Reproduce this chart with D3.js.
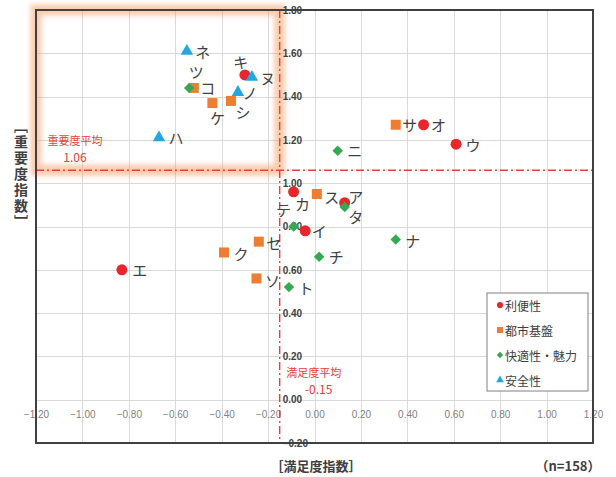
<!DOCTYPE html>
<html lang="ja">
<head>
<meta charset="utf-8">
<script src="https://cdn.jsdelivr.net/npm/d3@7"></script>
<style>
  html, body { margin: 0; padding: 0; background: #fff; }
  svg { display: block; font-family: "Noto Sans CJK JP", "Noto Sans", sans-serif; }
</style>
</head>
<body>
<svg id="chart" width="616" height="477"></svg>
<script>
// ---- data: satisfaction index (x) and importance index (y) per item ----
const categories = ["利便性", "都市基盤", "快適性・魅力", "安全性"];

const convenience = [   // 利便性
  ["ア", 0.13, 0.91], ["イ", -0.04, 0.78], ["ウ", 0.61, 1.18], ["エ", -0.83, 0.60],
  ["オ", 0.47, 1.27], ["カ", -0.09, 0.96], ["キ", -0.30, 1.50]
];
const infrastructure = [ // 都市基盤
  ["ク", -0.39, 0.68], ["ケ", -0.44, 1.37], ["コ", -0.52, 1.44], ["サ", 0.35, 1.27],
  ["シ", -0.36, 1.38], ["ス", 0.01, 0.95], ["セ", -0.24, 0.73], ["ソ", -0.25, 0.56]
];
const comfort = [        // 快適性・魅力
  ["タ", 0.13, 0.89], ["チ", 0.02, 0.66], ["ツ", -0.54, 1.44], ["テ", -0.09, 0.80],
  ["ト", -0.11, 0.52], ["ナ", 0.35, 0.74], ["ニ", 0.10, 1.15]
];
const safety = [         // 安全性
  ["ヌ", -0.27, 1.49], ["ネ", -0.55, 1.61], ["ノ", -0.33, 1.42], ["ハ", -0.67, 1.21]
];

const avgSatisfaction = -0.15;
const avgImportance = 1.06;
const sampleSize = 158;

const xTicks = [-1.2, -1.0, -0.8, -0.6, -0.4, -0.2, 0.0, 0.2, 0.4, 0.6, 0.8, 1.0, 1.2];
const yTicks = [-0.2, 0.0, 0.2, 0.4, 0.6, 0.8, 1.0, 1.2, 1.4, 1.6, 1.8];

// ---- layout and styles ----
const plot = { left: 36, right: 593, top: 10, bottom: 443 };
const seriesStyle = [
  { color: "#e8262b", symbol: d3.symbolCircle, size: 95, rotate: 0, legendSize: 30 },
  { color: "#ed7d31", symbol: d3.symbolSquare, size: 100, rotate: 0, legendSize: 36 },
  { color: "#36a852", symbol: d3.symbolSquare, size: 55, rotate: 45, legendSize: 20 },
  { color: "#22a7e0", symbol: d3.symbolTriangle, size: 68, rotate: 0, legendSize: 26 }
];
// label offset from its marker
const labelOffset = {
  "ア": [11, -6], "イ": [14, 0], "ウ": [17, 0], "エ": [18, 0], "オ": [15, 0],
  "カ": [9, 12], "キ": [-4, -13], "ク": [17, 1], "ケ": [5, 14], "コ": [14, 0],
  "サ": [14, 0], "シ": [12, 11], "ス": [15, 2], "セ": [15, 1], "ソ": [16, 2],
  "タ": [11, 9], "チ": [17, 0], "ツ": [7, -16], "テ": [-10, -17], "ト": [17, 0],
  "ナ": [17, 1], "ニ": [17, 0], "ヌ": [16, 0], "ネ": [16, 0], "ノ": [12, 0],
  "ハ": [17, 0]
};

const svg = d3.select("#chart");
const x = d3.scaleLinear().domain([-1.2, 1.2]).range([plot.left, plot.right]);
const y = d3.scaleLinear().domain([-0.2, 1.8]).range([plot.bottom, plot.top]);

const defs = svg.append("defs");
defs.append("filter").attr("id", "glow").attr("x", "-10%").attr("y", "-10%")
  .attr("width", "120%").attr("height", "120%")
  .append("feGaussianBlur").attr("stdDeviation", 2.4);

// gridlines
const grid = svg.append("g").attr("stroke", "#d9d9d9").attr("stroke-width", 1);
grid.selectAll(".vx").data(xTicks).join("line")
  .attr("x1", d => Math.round(x(d)) + 0.5).attr("x2", d => Math.round(x(d)) + 0.5)
  .attr("y1", plot.top).attr("y2", plot.bottom);
grid.selectAll(".hy").data(yTicks).join("line")
  .attr("y1", d => Math.round(y(d)) + 0.5).attr("y2", d => Math.round(y(d)) + 0.5)
  .attr("x1", plot.left).attr("x2", plot.right);

// highlighted quadrant: high importance, low satisfaction
svg.append("rect")
  .attr("x", x(-1.2)).attr("y", y(1.8))
  .attr("width", x(avgSatisfaction) - x(-1.2))
  .attr("height", y(avgImportance) - y(1.8))
  .attr("fill", "none")
  .attr("stroke", "#f39a5c").attr("stroke-width", 11).attr("stroke-opacity", 0.5)
  .attr("filter", "url(#glow)");

// x axis along importance = 0
const xAxis = svg.append("g")
  .attr("transform", `translate(0,${y(0)})`)
  .call(d3.axisBottom(x).tickValues(xTicks).tickFormat(d3.format(".2f")).tickSize(0).tickPadding(11));
xAxis.select(".domain").remove();
xAxis.selectAll("text").attr("fill", "#7f7f7f").attr("font-size", 10)
  .attr("font-family", "'Liberation Sans', Arial, sans-serif");

// average lines
const avgColor = "#e8403a";
svg.append("line")
  .attr("x1", x(avgSatisfaction)).attr("x2", x(avgSatisfaction))
  .attr("y1", plot.top).attr("y2", plot.bottom)
  .attr("stroke", avgColor).attr("stroke-width", 1.4).attr("stroke-dasharray", "8,3,2,3");
svg.append("line")
  .attr("x1", plot.left).attr("x2", plot.right)
  .attr("y1", y(avgImportance)).attr("y2", y(avgImportance))
  .attr("stroke", avgColor).attr("stroke-width", 1.4).attr("stroke-dasharray", "8,3,2,3");

// y axis along the satisfaction average
const yAxis = svg.append("g")
  .attr("transform", `translate(${x(avgSatisfaction)},0)`)
  .call(d3.axisRight(y).tickValues(yTicks).tickFormat(d3.format(".2f")).tickSize(0).tickPadding(3));
yAxis.select(".domain").remove();
yAxis.selectAll("text").attr("fill", "#404040").attr("font-size", 10).attr("font-weight", "bold")
  .attr("font-family", "'Liberation Sans', Arial, sans-serif");

// average annotations
svg.append("text").attr("x", 75).attr("y", y(avgImportance) - 25)
  .attr("text-anchor", "middle").attr("fill", avgColor).attr("font-size", 11)
  .text("重要度平均");
svg.append("text").attr("x", 75).attr("y", y(avgImportance) - 8)
  .attr("text-anchor", "middle").attr("fill", avgColor).attr("font-size", 12)
  .text(avgImportance.toFixed(2));
svg.append("text").attr("x", x(avgSatisfaction) + 34).attr("y", y(0) - 23)
  .attr("text-anchor", "middle").attr("fill", avgColor).attr("font-size", 11)
  .text("満足度平均");
svg.append("text").attr("x", x(avgSatisfaction) + 39).attr("y", y(0) - 6)
  .attr("text-anchor", "middle").attr("fill", avgColor).attr("font-size", 12)
  .text(avgSatisfaction.toFixed(2));

// points
const allSeries = [convenience, infrastructure, comfort, safety];
allSeries.forEach((series, i) => {
  const st = seriesStyle[i];
  const g = svg.append("g");
  g.selectAll("path").data(series).join("path")
    .attr("d", d3.symbol().type(st.symbol).size(st.size))
    .attr("transform", d => `translate(${x(d[1])},${y(d[2])}) rotate(${st.rotate})`)
    .attr("fill", st.color);
});
allSeries.forEach(series => {
  svg.append("g").selectAll("text").data(series).join("text")
    .attr("x", d => x(d[1]) + labelOffset[d[0]][0])
    .attr("y", d => y(d[2]) + labelOffset[d[0]][1])
    .attr("text-anchor", "middle").attr("dominant-baseline", "central")
    .attr("font-size", 15).attr("fill", "#404040")
    .text(d => d[0]);
});

// plot border
svg.append("rect")
  .attr("x", plot.left).attr("y", plot.top)
  .attr("width", plot.right - plot.left).attr("height", plot.bottom - plot.top)
  .attr("fill", "none").attr("stroke", "#404040").attr("stroke-width", 2);

// legend
const legend = svg.append("g").attr("transform", "translate(487,293)");
legend.append("rect").attr("width", 101).attr("height", 98)
  .attr("fill", "#fff").attr("stroke", "#808080").attr("stroke-width", 1);
categories.forEach((c, i) => {
  const st = seriesStyle[i];
  const row = legend.append("g").attr("transform", `translate(0,${12 + i * 25})`);
  row.append("path")
    .attr("d", d3.symbol().type(st.symbol).size(st.legendSize))
    .attr("transform", `translate(13,0) rotate(${st.rotate})`)
    .attr("fill", st.color);
  row.append("text").attr("x", 18).attr("y", 0).attr("dominant-baseline", "central")
    .attr("font-size", 12).attr("fill", "#404040").text(c);
});

// axis titles
svg.append("text").attr("x", 316).attr("y", 465).attr("text-anchor", "middle")
  .attr("dominant-baseline", "central").attr("font-size", 13).attr("font-weight", "bold")
  .attr("fill", "#404040").text("［満足度指数］");
svg.append("text").attr("x", 568).attr("y", 465).attr("text-anchor", "middle")
  .attr("dominant-baseline", "central").attr("font-size", 13).attr("font-weight", "bold")
  .attr("fill", "#404040").text(`（n=${sampleSize}）`);
svg.append("text").attr("x", 21).attr("y", 175).attr("text-anchor", "middle")
  .style("writing-mode", "vertical-rl").attr("font-size", 14).attr("font-weight", "bold")
  .attr("letter-spacing", 2).attr("fill", "#404040").text("［重要度指数］");
</script>
</body>
</html>
